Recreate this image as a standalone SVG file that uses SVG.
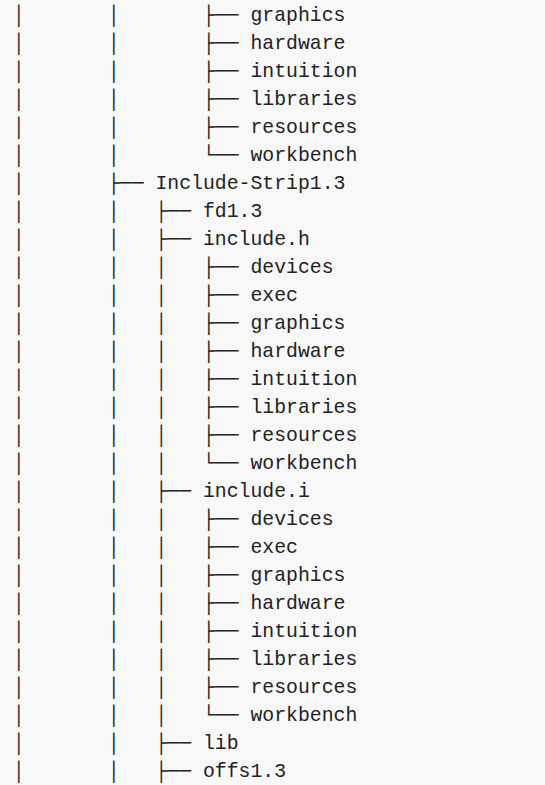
<svg xmlns="http://www.w3.org/2000/svg" width="545" height="785" viewBox="0 0 545 785">
<style>
text{font-family:"Liberation Mono","DejaVu Sans Mono",monospace;font-size:19.8px;fill:#222;white-space:pre}
</style>
<rect width="545" height="785" fill="#f8f8f8"/>
<g id="tree">
<g id="r0"><text x="13" y="20.5">│       │       ├── graphics</text></g>
<g id="r1"><text x="13" y="48.5">│       │       ├── hardware</text></g>
<g id="r2"><text x="13" y="76.5">│       │       ├── intuition</text></g>
<g id="r3"><text x="13" y="104.5">│       │       ├── libraries</text></g>
<g id="r4"><text x="13" y="132.5">│       │       ├── resources</text></g>
<g id="r5"><text x="13" y="160.5">│       │       └── workbench</text></g>
<g id="r6"><text x="13" y="188.5">│       ├── Include-Strip1.3</text></g>
<g id="r7"><text x="13" y="216.5">│       │   ├── fd1.3</text></g>
<g id="r8"><text x="13" y="244.5">│       │   ├── include.h</text></g>
<g id="r9"><text x="13" y="272.5">│       │   │   ├── devices</text></g>
<g id="r10"><text x="13" y="300.5">│       │   │   ├── exec</text></g>
<g id="r11"><text x="13" y="328.5">│       │   │   ├── graphics</text></g>
<g id="r12"><text x="13" y="356.5">│       │   │   ├── hardware</text></g>
<g id="r13"><text x="13" y="384.5">│       │   │   ├── intuition</text></g>
<g id="r14"><text x="13" y="412.5">│       │   │   ├── libraries</text></g>
<g id="r15"><text x="13" y="440.5">│       │   │   ├── resources</text></g>
<g id="r16"><text x="13" y="468.5">│       │   │   └── workbench</text></g>
<g id="r17"><text x="13" y="496.5">│       │   ├── include.i</text></g>
<g id="r18"><text x="13" y="524.5">│       │   │   ├── devices</text></g>
<g id="r19"><text x="13" y="552.5">│       │   │   ├── exec</text></g>
<g id="r20"><text x="13" y="580.5">│       │   │   ├── graphics</text></g>
<g id="r21"><text x="13" y="608.5">│       │   │   ├── hardware</text></g>
<g id="r22"><text x="13" y="636.5">│       │   │   ├── intuition</text></g>
<g id="r23"><text x="13" y="664.5">│       │   │   ├── libraries</text></g>
<g id="r24"><text x="13" y="692.5">│       │   │   ├── resources</text></g>
<g id="r25"><text x="13" y="720.5">│       │   │   └── workbench</text></g>
<g id="r26"><text x="13" y="748.5">│       │   ├── lib</text></g>
<g id="r27"><text x="13" y="776.5">│       │   ├── offs1.3</text></g>
</g>
</svg>
